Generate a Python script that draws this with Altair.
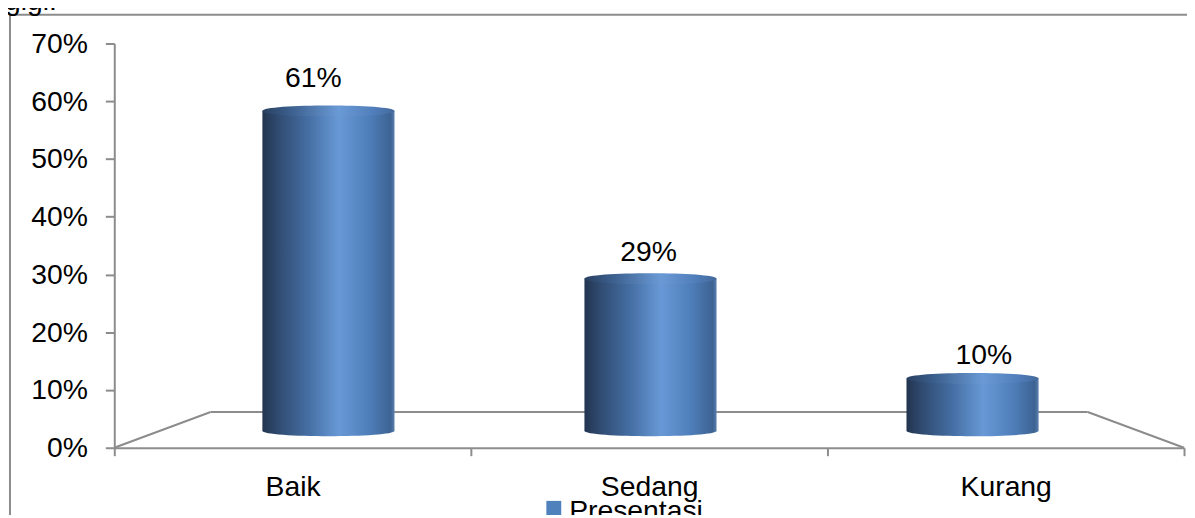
import altair as alt
import pandas as pd

# ---- data ----
categories = ["Baik", "Sedang", "Kurang"]
values = [0.61, 0.29, 0.10]
y_ticks = [0, 0.1, 0.2, 0.3, 0.4, 0.5, 0.6, 0.7]
series_name = ["Presentasi"]
doc_text = ["gigi."]

df = pd.DataFrame({"kategori": categories, "nilai": values})
one = pd.DataFrame({"t": [""]})

FONT = "Liberation Sans"
GREY = "#8c8c8c"
W, H = 1077, 407
FS = 28.5

side_grad = {
    "gradient": "linear", "x1": 0, "y1": 0, "x2": 1, "y2": 0,
    "stops": [
        {"offset": 0, "color": "#22354f"},
        {"offset": 0.12, "color": "#304b71"},
        {"offset": 0.35, "color": "#456fa4"},
        {"offset": 0.58, "color": "#6899d6"},
        {"offset": 0.8, "color": "#4f7fbb"},
        {"offset": 0.97, "color": "#3d6393"},
        {"offset": 1, "color": "#5a7fae"},
    ],
}
cap_grad = {
    "gradient": "linear", "x1": 0, "y1": 0, "x2": 1, "y2": 0,
    "stops": [
        {"offset": 0, "color": "#294060"},
        {"offset": 0.2, "color": "#3a5d8b"},
        {"offset": 0.58, "color": "#6a9ad6"},
        {"offset": 0.85, "color": "#4f7dba"},
        {"offset": 1, "color": "#44699b"},
    ],
}
ELLIPSE = "M -1 0 C -1 -0.11 1 -0.11 1 0 C 1 0.11 -1 0.11 -1 0 Z"
BAR_W = 133

# ---- axis layer (invisible marks, real axes) ----
x_main = alt.X(
    "kategori:N", sort=categories,
    scale=alt.Scale(domain=categories, paddingInner=0, paddingOuter=0),
    axis=alt.Axis(title=None, labelAngle=0, tickBand="extent", tickSize=8,
                  labelPadding=17, labelFontSize=FS, labelFont=FONT,
                  labelColor="black", domainColor=GREY, tickColor=GREY,
                  domainWidth=2, tickWidth=2, grid=False),
)
y_main = alt.Y(
    "nilai:Q", scale=alt.Scale(domain=[0, 0.7]),
    axis=alt.Axis(title=None, values=y_ticks, format=".0%", tickSize=9,
                  labelPadding=18, labelFontSize=FS, labelFont=FONT,
                  labelColor="black", domainColor=GREY, tickColor=GREY,
                  domainWidth=2, tickWidth=2, grid=False),
)
axis_layer = alt.Chart(df).mark_bar(opacity=0).encode(x=x_main, y=y_main)


def seg(x1, y1, x2, y2):
    return alt.Chart(one).mark_rule(color=GREY, strokeWidth=2).encode(
        x=alt.value(x1), y=alt.value(y1), x2=alt.value(x2), y2=alt.value(y2))


# ---- cylinders (scale of the 3D plane where the bars stand) ----
def xb():
    return alt.X("kategori:N", sort=categories,
                 scale=alt.Scale(domain=categories, range=[53.5, 1026.2],
                                 paddingInner=0, paddingOuter=0),
                 axis=None)


def yb(field):
    return alt.Y(field, scale=alt.Scale(domain=[-0.0322, 0.7386]), axis=None)


# data labels use the perspective of the label plane
xl = alt.X("kategori:N", sort=categories,
           scale=alt.Scale(domain=categories, range=[31.75, 1044.25],
                           paddingInner=0, paddingOuter=0),
           axis=None)
yl = alt.Y("nilai:Q", scale=alt.Scale(domain=[-0.0709, 0.6731]), axis=None)

base = alt.Chart(df).transform_calculate(nol="0")
bottom_ell = base.mark_point(shape=ELLIPSE, size=BAR_W * BAR_W, filled=True,
                             fill=side_grad, opacity=1, strokeWidth=0).encode(
    x=xb(), y=yb("nol:Q"))
body = base.mark_bar(width=BAR_W, fill=side_grad, strokeWidth=0).encode(
    x=xb(), y=yb("nilai:Q"), y2="nol:Q")
top_ell = base.mark_point(shape=ELLIPSE, size=BAR_W * BAR_W, filled=True,
                          fill=cap_grad, opacity=1, strokeWidth=0).encode(
    x=xb(), y=yb("nilai:Q"))
labels = base.mark_text(baseline="middle", fontSize=FS, font=FONT, color="black").encode(
    x=xl, y=yl, text=alt.Text("nilai:Q", format=".0%"))

# ---- legend (bottom, partly cut like the reference) ----
leg_sq = alt.Chart(one).mark_square(size=225, color="#4f81bd", opacity=1).encode(
    x=alt.value(442.5), y=alt.value(468))
leg_txt = alt.Chart(pd.DataFrame({"t": series_name})).mark_text(
    align="left", baseline="alphabetic", fontSize=FS, font=FONT, color="black").encode(
    x=alt.value(458), y=alt.value(480), text="t:N")

# ---- frame and cut document text ----
frame_l = seg(-105, -29, -105, 490)
frame_t = seg(-105, -29, 1090, -29)
doc = alt.Chart(pd.DataFrame({"t": doc_text})).mark_text(
    align="left", baseline="alphabetic", fontSize=FS, font=FONT, color="black").encode(
    x=alt.value(-110), y=alt.value(-34), text="t:N")

chart = alt.layer(
    frame_l, frame_t, doc,
    seg(0, H, 97, 371), seg(97, 371, 980, 371), seg(980, 371, W, H),
    axis_layer, bottom_ell, body, top_ell, labels, leg_sq, leg_txt
).resolve_scale(x="independent", y="independent").properties(
    width=W, height=H,
    autosize=alt.AutoSizeParams(type="none"),
    padding={"left": 107, "top": 34, "right": 3, "bottom": 66},
    background="white",
).configure_view(strokeWidth=0)

chart.save("out.html", embed_options={"renderer": "svg", "actions": False})
